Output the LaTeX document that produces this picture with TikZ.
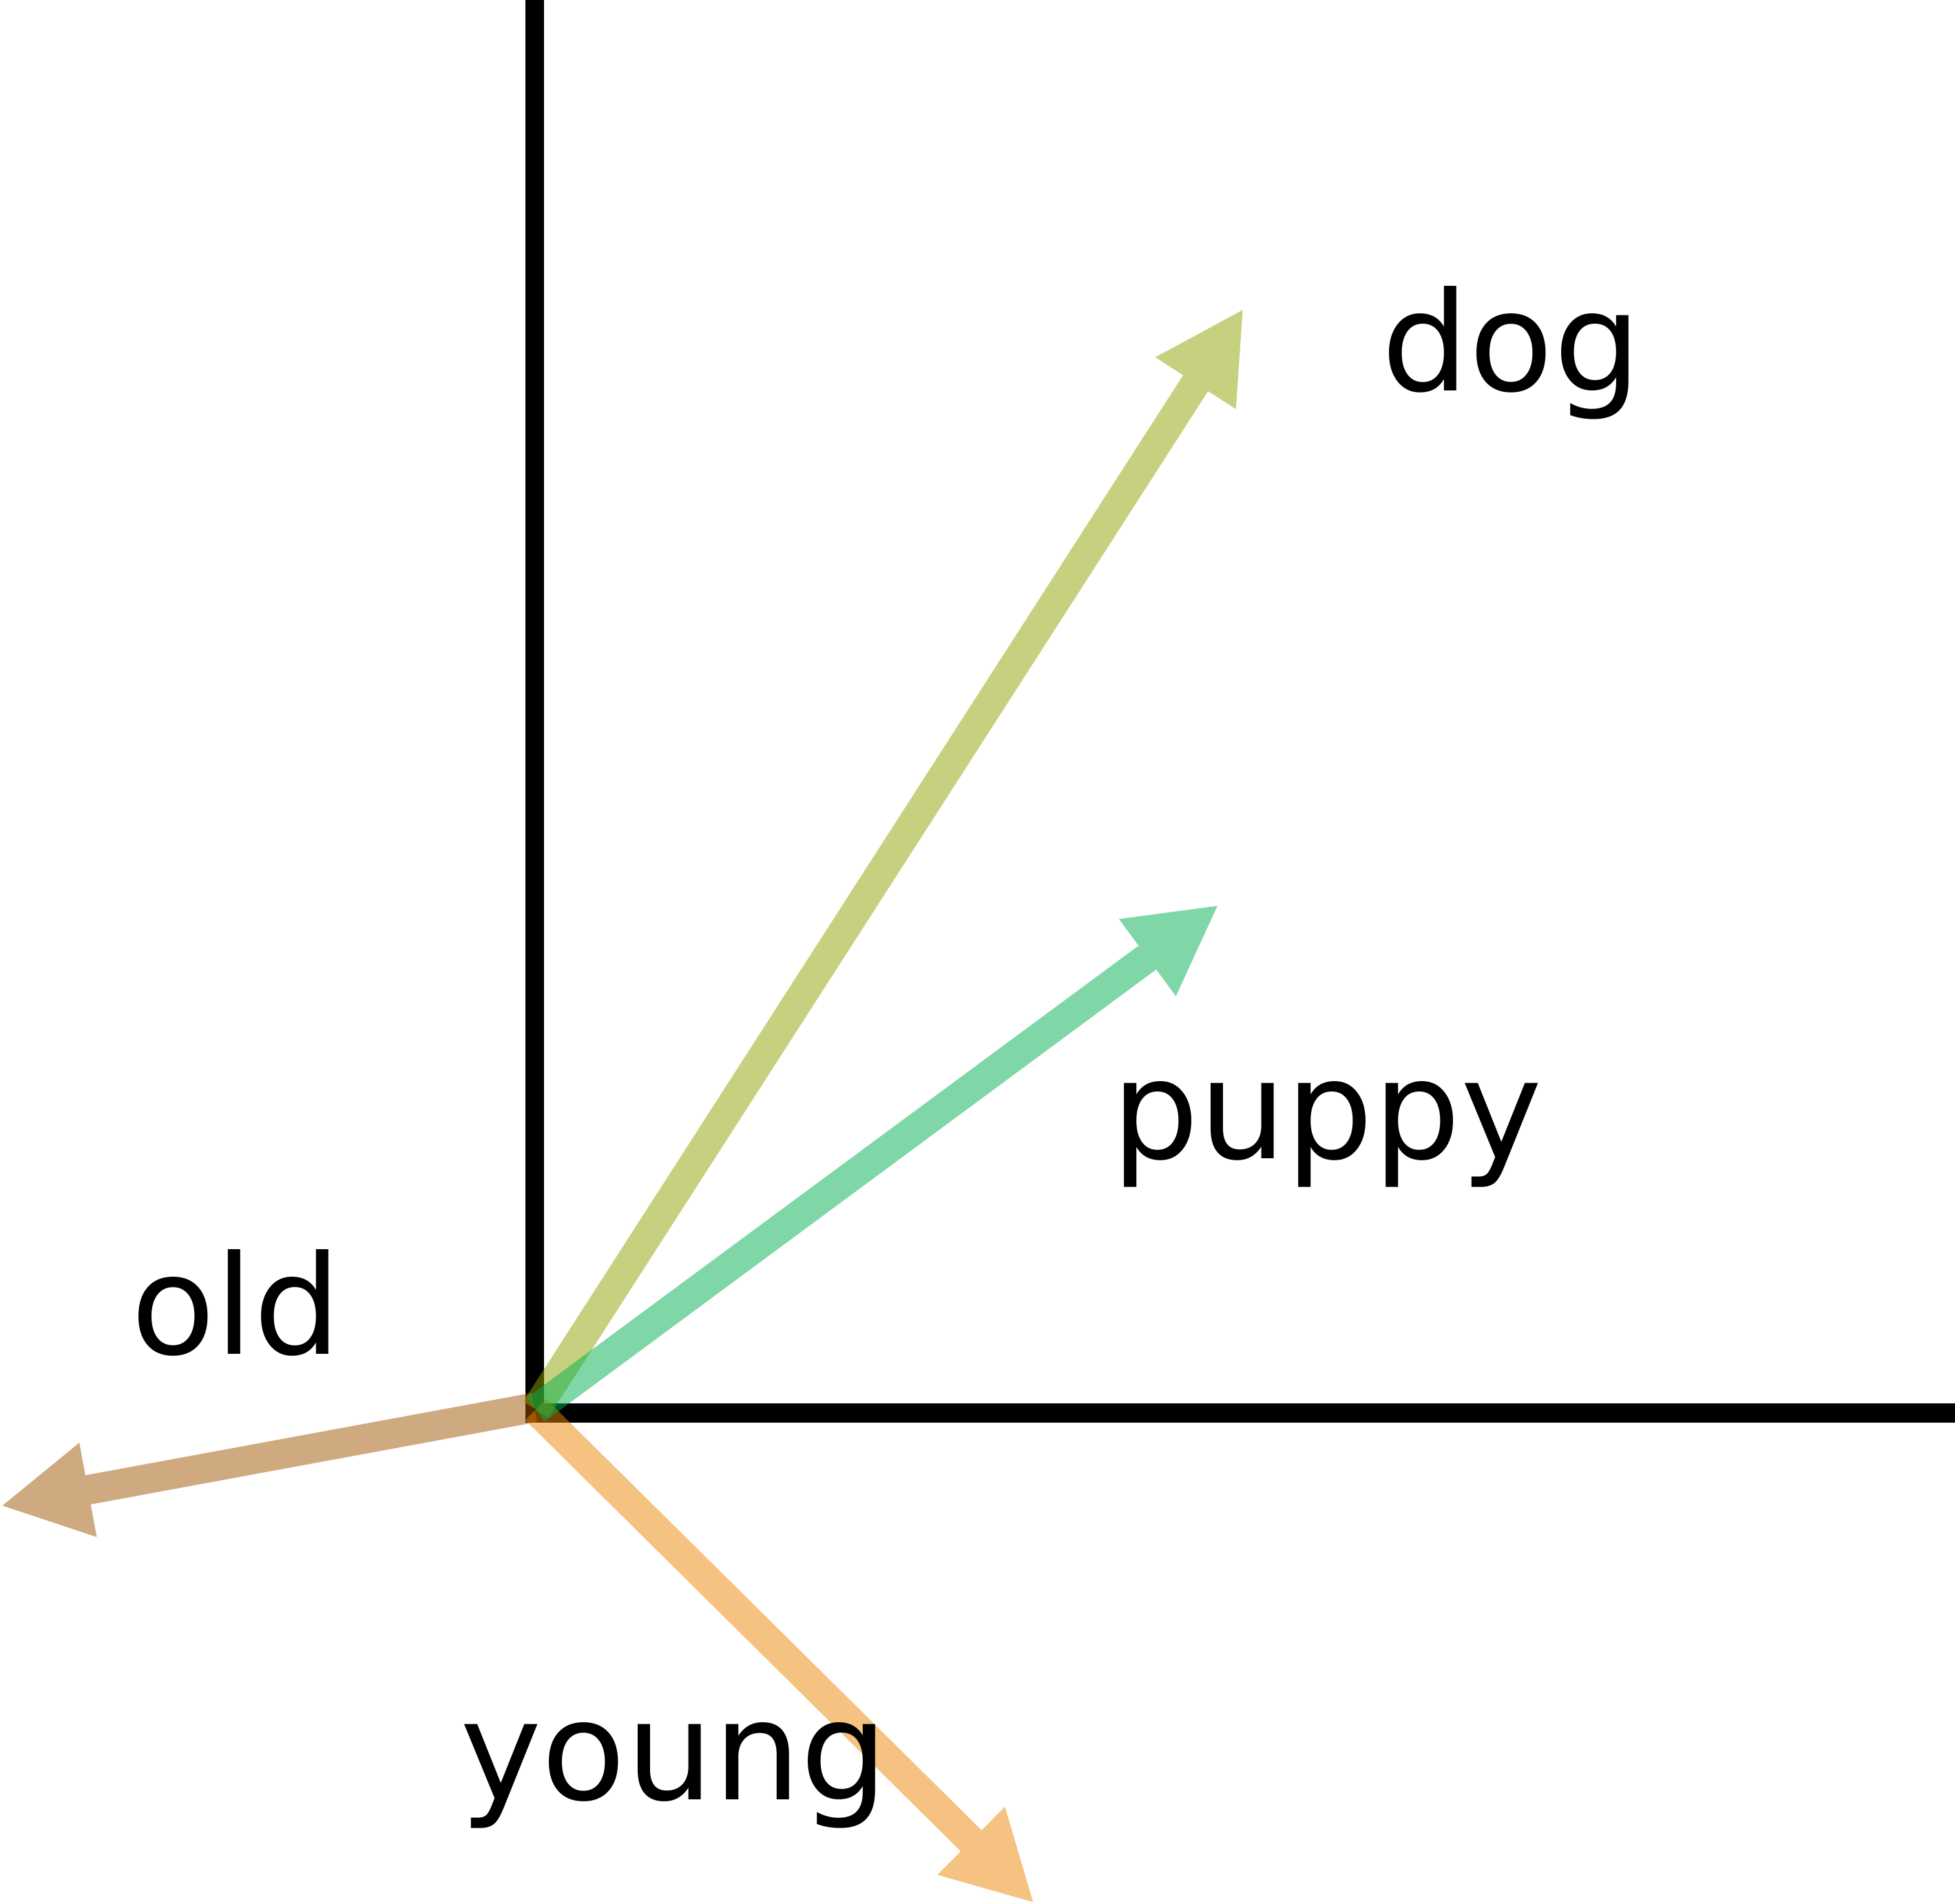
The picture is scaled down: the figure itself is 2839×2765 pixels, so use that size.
\documentclass[tikz,border=0pt]{standalone}
\usepackage{fontspec}
\setmainfont{DejaVu Sans}
\usetikzlibrary{arrows.meta}
\definecolor{dogc}{RGB}{145,163,1}
\definecolor{pupc}{RGB}{1,177,81}
\definecolor{oldc}{RGB}{161,85,0}
\definecolor{youngc}{RGB}{237,135,5}
\begin{document}
\begin{tikzpicture}[x=0.1pt,y=-0.1pt,
  axis/.style={line width=2.8pt, black, line join=miter},
  vec/.style={line width=4.3pt, -{Triangle[length=12.9pt,width=12.9pt]}},
  lbl/.style={anchor=base, inner sep=0pt, font=\fontsize{20}{24}\selectfont}]
\useasboundingbox (0,0) rectangle (2839,2765);
\fill[white] (0,0) rectangle (2839,2765);
% axes
\coordinate (top) at (776.5,0);
\coordinate (corner) at (776.5,2052.5);
\coordinate (right) at (2839,2052.5);
\draw[axis] (top) -- (corner) -- (right);
% vectors
\coordinate (o) at (778,2047);
\coordinate (oldo) at (776,2044);
\coordinate (dogtip) at (1806,448);
\coordinate (puptip) at (1770,1314);
\coordinate (oldtip) at (1,2187);
\coordinate (youngtip) at (1502,2764);
\begin{scope}[transparency group, opacity=0.5]
  \draw[vec, oldc] (oldo) -- (oldtip);
\end{scope}
\begin{scope}[transparency group, opacity=0.5]
  \draw[vec, youngc] (o) -- (youngtip);
\end{scope}
\begin{scope}[transparency group, opacity=0.5]
  \draw[vec, dogc] (o) -- (dogtip);
\end{scope}
\begin{scope}[transparency group, opacity=0.5]
  \draw[vec, pupc] (o) -- (puptip);
\end{scope}
% labels
\node[lbl] (dog) at (2195,568) {dog};
\node[lbl] (puppy) at (1927,1683) {puppy};
\node[lbl] (old) at (343,1967) {old};
\node[lbl] (young) at (979,2614) {young};
\end{tikzpicture}
\end{document}
